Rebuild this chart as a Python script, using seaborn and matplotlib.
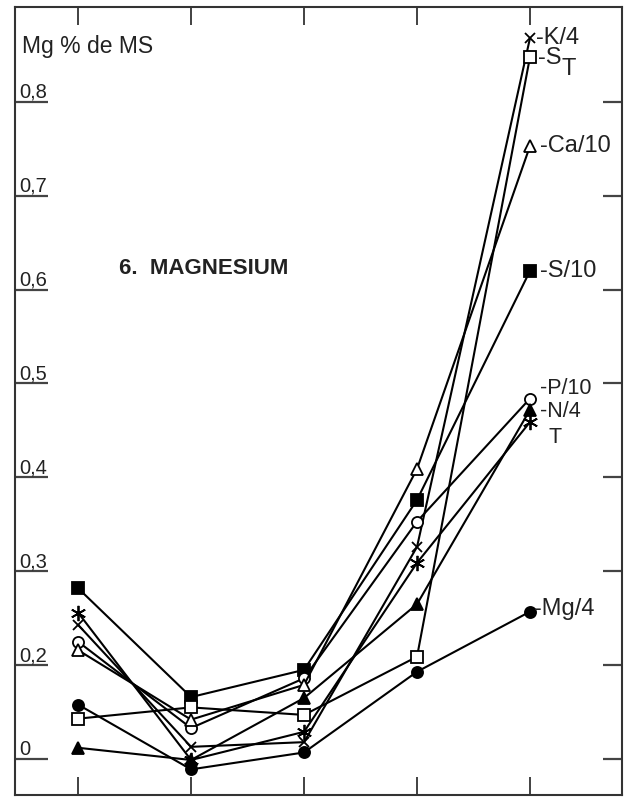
import matplotlib
matplotlib.use("Agg")
import matplotlib.pyplot as plt
import seaborn as sns
import pandas as pd

sns.set_theme(style="white")
plt.rcParams["font.family"] = ["Liberation Sans", "DejaVu Sans"]

# Sampling dates (5 stages) and magnesium-related series
stages = [0, 1, 2, 3, 4]
s10 = [0.282, 0.166, 0.195, 0.376, 0.620]    # S/10  (filled square)
t = [0.256, 0.099, 0.129, 0.309, 0.459]      # T     (asterisk)
k4 = [0.243, 0.113, 0.118, 0.326, 0.868]     # K/4   (cross)
p10 = [0.225, 0.133, 0.186, 0.353, 0.484]    # P/10  (open circle)
ca10 = [0.216, 0.142, 0.179, 0.409, 0.753]   # Ca/10 (open triangle)
mg4 = [0.158, 0.089, 0.107, 0.193, 0.257]    # Mg/4  (filled circle)
st = [0.143, 0.155, 0.147, 0.209, 0.848]     # S_T   (open square)
n4 = [0.112, 0.099, 0.165, 0.265, 0.472]     # N/4   (filled triangle)

ytick_vals = [0.1, 0.2, 0.3, 0.4, 0.5, 0.6, 0.7, 0.8]
ytick_labels = ["0", "0,2", "0,3", "0,4", "0,5", "0,6", "0,7", "0,8"]

series = [
    ("S/10", s10, "s", "black", 9),
    ("T", t, (6, 2, 0), "black", 11),
    ("K/4", k4, "x", "black", 7),
    ("P/10", p10, "o", "white", 8),
    ("Ca/10", ca10, "^", "white", 9),
    ("Mg/4", mg4, "o", "black", 8),
    ("ST", st, "s", "white", 8),
    ("N/4", n4, "^", "black", 9),
]

fig = plt.figure(figsize=(6.24, 7.98), dpi=100)
ax = fig.add_axes([15 / 624, 3 / 798, 607 / 624, 788 / 798])

for name, vals, mk, face, ms in series:
    df = pd.DataFrame({"stage": stages, "value": vals})
    sns.lineplot(data=df, x="stage", y="value", ax=ax, color="black",
                 linewidth=1.5, marker=mk, markersize=ms,
                 markerfacecolor=face, markeredgecolor="black",
                 markeredgewidth=1.3, zorder=3)

ax.set_xlim(-0.558, 4.814)
ax.set_ylim(0.0617, 0.901)
ax.set_xlabel("")
ax.set_ylabel("")

ax.set_xticks(stages)
ax.set_xticklabels([])
ax.tick_params(axis="x", which="both", direction="in", top=True, bottom=True,
               length=13, width=1.3, color="#333333")
ax.set_yticks(ytick_vals)
ax.set_yticklabels(ytick_labels, fontsize=14.5, color="#222222")
ax.tick_params(axis="y", which="both", direction="in", left=True, right=True,
               length=14, width=1.6, color="#444444", pad=-3)
for tk in ax.yaxis.get_major_ticks():
    tk.tick1line.set_markersize(24)
for lbl in ax.get_yticklabels():
    lbl.set_horizontalalignment("left")
    lbl.set_verticalalignment("bottom")

for sp in ax.spines.values():
    sp.set_visible(True)
    sp.set_color("#333333")
    sp.set_linewidth(1.5)

ax.text(-0.496, 0.859, "Mg % de MS", fontsize=16.5, color="#222222",
        ha="left", va="center")
ax.text(0.36, 0.623, "6.  MAGNESIUM", fontsize=16, fontweight="bold",
        color="#222222", ha="left", va="center")

# end-of-line labels
lab_kw = dict(fontsize=17, color="#222222", ha="left", va="center",
              textcoords="offset points")
ax.annotate("-K/4", xy=(4, k4[-1]), xytext=(4, 0), **lab_kw)
ax.annotate("-S", xy=(4, st[-1]), xytext=(6, -1), **lab_kw)
ax.annotate("T", xy=(4, st[-1]), xytext=(23, -9), **lab_kw)
ax.annotate("-Ca/10", xy=(4, ca10[-1]), xytext=(7, 0), **lab_kw)
ax.annotate("-S/10", xy=(4, s10[-1]), xytext=(7, 0), **lab_kw)

small_kw = dict(lab_kw, fontsize=15.5)
ax.annotate("-P/10", xy=(4, p10[-1]), xytext=(7, 7.5), **small_kw)
ax.annotate("-N/4", xy=(4, n4[-1]), xytext=(7, -1.5), **small_kw)
ax.annotate("T", xy=(4, t[-1]), xytext=(13, -11), **small_kw)
ax.annotate("-Mg/4", xy=(4, mg4[-1]), xytext=(3, 2), **lab_kw)

fig.savefig("out.png", dpi=100)
